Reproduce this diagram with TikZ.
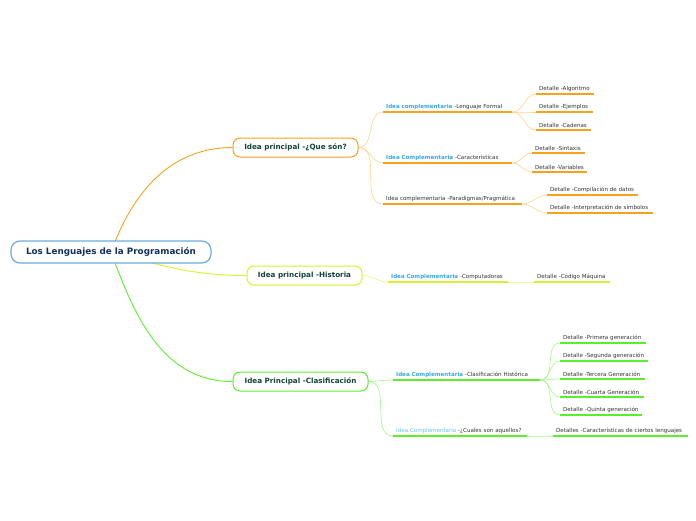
\documentclass[tikz,border=0pt]{standalone}
\usepackage{fontspec}
\setmainfont{DejaVu Sans}
\usetikzlibrary{backgrounds}
\definecolor{RootClr}{HTML}{6AAEE0}
\definecolor{RootTxt}{HTML}{14305A}
\definecolor{MainTxt}{HTML}{12443A}
\definecolor{OrangeClr}{HTML}{F7A21B}
\definecolor{OrangeLt}{HTML}{FDD28A}
\definecolor{LimeClr}{HTML}{D4F230}
\definecolor{LimeLt}{HTML}{E4F77E}
\definecolor{GreenClr}{HTML}{5CEE2E}
\definecolor{GreenLt}{HTML}{A6F58A}
\definecolor{IdeaClr}{HTML}{38A6E4}
\definecolor{IdeaLt}{HTML}{6CC0EE}
\definecolor{TxtClr}{HTML}{333333}
\newcommand{\idea}[1]{{\bfseries\color{IdeaClr}#1}}

\begin{document}
\begin{tikzpicture}[x=1pt,y=-1pt,
  rootbox/.style={draw=RootClr,line width=1.2pt,fill=white,rounded corners=9pt,
    minimum width=200pt,minimum height=22pt,text=RootTxt,
    font=\fontsize{8.8}{10}\selectfont\bfseries},
  mainbox/.style={draw=#1,line width=1pt,fill=white,rounded corners=7pt,
    minimum height=19pt,text=MainTxt,font=\fontsize{7.2}{8}\selectfont\bfseries},
  leaf/.style={anchor=south west,inner xsep=3pt,inner ysep=2.6pt,
    text width=#1pt-6pt,align=left,text=TxtClr,font=\fontsize{5.55}{6.5}\selectfont},
  uline/.style={line width=1.6pt,#1},
  link/.style={line width=0.9pt,#1},
  twig/.style={line width=0.6pt,#1}]
\useasboundingbox (0,0) rectangle (696,520);

% main ideas
\node[rootbox] (root) at (111,252) {Los Lenguajes de la Programación};
\node[mainbox=OrangeClr,minimum width=125pt] (que) at (295.5,147.5) {Idea principal -¿Que són?};
\node[mainbox=LimeClr,minimum width=115pt] (hist) at (304.5,275.5) {Idea principal -Historia};
\node[mainbox=GreenClr,minimum width=135pt] (clas) at (300.5,381.5) {Idea Principal -Clasificación};

% ¿Que son?
\node[leaf=129] (formal) at (383,112) {\idea{Idea complementaria} -Lenguaje Formal};
\node[leaf=58] (algo) at (536,94) {Detalle -Algoritmo};
\node[leaf=57] (ejem) at (536,112) {Detalle -Ejemplos};
\node[leaf=55] (cade) at (536,130) {Detalle -Cadenas};
\node[leaf=129] (carac) at (383,163) {\idea{Idea Complementaria} -Caracteristicas};
\node[leaf=53] (sint) at (532,153) {Detalle -Sintaxis};
\node[leaf=55] (vari) at (532,172) {Detalle -Variables};
\node[leaf=139] (para) at (383,204) {Idea complementaria -Paradigmas/Pragmática};
\node[leaf=91] (comp) at (547,195) {Detalle -Compilación de datos};
\node[leaf=106] (interp) at (547,213) {Detalle -Interpretación de símbolos};

% Historia
\node[leaf=120] (compu) at (388,282) {\idea{Idea Complementaria} -Computadoras};
\node[leaf=76] (maq) at (534,282) {Detalle -Código Máquina};

% Clasificacion
\node[leaf=147] (histo) at (393,380) {\idea{Idea Complementaria} -Clasificación Histórica};
\node[leaf=86] (gen1) at (560,343) {Detalle -Primera generación};
\node[leaf=88] (gen2) at (560,361) {Detalle -Segunda generación};
\node[leaf=85] (gen3) at (560,379) {Detalle -Tercera Generación};
\node[leaf=84] (gen4) at (560,397) {Detalle -Cuarta Generación};
\node[leaf=82] (gen5) at (560,415) {Detalle -Quinta generación};
\node[leaf=134] (cuales) at (393,436) {{\color{IdeaLt}Idea Complementaria} -¿Cuales son aquellos?};
\node[leaf=135] (leng) at (553,436) {Detalles -Características de ciertos lenguajes};

% underlines
\foreach \n in {formal,algo,ejem,cade,carac,sint,vari,para,comp,interp}
  \draw[uline=OrangeClr] (\n.south west) -- (\n.south east);
\foreach \n in {compu,maq}
  \draw[uline=LimeClr] (\n.south west) -- (\n.south east);
\foreach \n in {histo,gen1,gen2,gen3,gen4,gen5,cuales,leng}
  \draw[uline=GreenClr] (\n.south west) -- (\n.south east);

\begin{scope}[on background layer]
\draw[link=OrangeClr] (root.center) to[out=70,in=180] (que.west);
\draw[link=LimeClr] (root.center) to[out=-15,in=180] (hist.west);
\draw[link=GreenClr] (root.center) to[out=-70,in=180] (clas.west);

\foreach \n in {formal,carac,para}
  \draw[twig=OrangeLt] (que.east) to[out=0,in=180] (\n.south west);
\foreach \n in {algo,ejem,cade}
  \draw[twig=OrangeLt] (formal.south east) to[out=0,in=180] (\n.south west);
\foreach \n in {sint,vari}
  \draw[twig=OrangeLt] (carac.south east) to[out=0,in=180] (\n.south west);
\foreach \n in {comp,interp}
  \draw[twig=OrangeLt] (para.south east) to[out=0,in=180] (\n.south west);

\draw[twig=LimeLt] (hist.east) to[out=0,in=180] (compu.south west);
\draw[twig=LimeLt] (compu.south east) to[out=0,in=180] (maq.south west);

\foreach \n in {histo,cuales}
  \draw[twig=GreenLt] (clas.east) to[out=0,in=180] (\n.south west);
\foreach \n in {gen1,gen2,gen3,gen4,gen5}
  \draw[twig=GreenLt] (histo.south east) to[out=0,in=180] (\n.south west);
\draw[twig=GreenLt] (cuales.south east) to[out=0,in=180] (leng.south west);
\end{scope}

\end{tikzpicture}
\end{document}
